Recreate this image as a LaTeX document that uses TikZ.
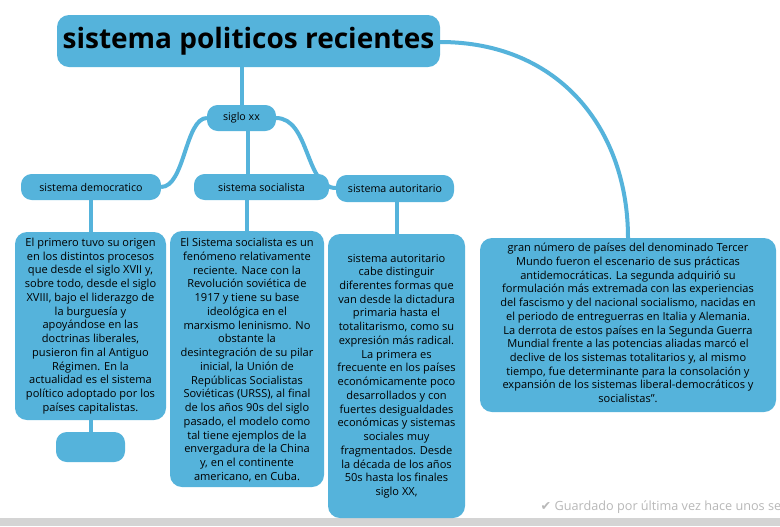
\documentclass[tikz,border=0pt]{standalone}
\usepackage{fontspec}
\setmainfont{Open Sans}
\newfontfamily\symf{DejaVu Sans}
\definecolor{bl}{HTML}{55B3DB}
\definecolor{gr}{HTML}{B8B8B8}
\begin{document}
\begin{tikzpicture}[x=0.75pt,y=-0.75pt,
  bx/.style={fill=bl,rounded corners=9pt,draw=none,align=center,inner sep=0pt,font=\fontsize{8.3}{10.3}\selectfont},
  pill/.style={fill=bl,rounded corners=8pt,draw=none,font=\fontsize{8}{10}\selectfont},
  ln/.style={draw=bl,line width=3pt}]
\useasboundingbox (0,0) rectangle (780,526);
\fill[white] (0,0) rectangle (780,526);
\fill[gr!60] (0,518) rectangle (780,526);
% connectors
\draw[ln] (242,67) -- (242,105);
\draw[ln] (207,118) .. controls (185,118) and (185,187) .. (161,187);
\draw[ln] (248,131) -- (248,174);
\draw[ln] (276,118) .. controls (310,118) and (305,188) .. (336,188);
\draw[ln] (440,42) .. controls (560,42) and (628,130) .. (628,238);
\draw[ln] (91,200) -- (91,232);
\draw[ln] (91,420) -- (91,432);
\draw[ln] (247,200) -- (247,231);
\draw[ln] (397,202) -- (397,234);
% boxes
\path[bx] (57,15) rectangle (440,67);
\node (title) at (248.5,41) {\fontsize{21}{24}\selectfont\bfseries sistema politicos recientes};
\path[pill] (207,105) rectangle (276,131); \node[font=\fontsize{8}{10}\selectfont] (s20) at (241.5,118) {siglo xx};
\path[pill] (21,174) rectangle (161,200); \node[font=\fontsize{8}{10}\selectfont] (dem) at (91,187) {sistema democratico};
\path[pill] (194,174) rectangle (329,200); \node[font=\fontsize{8}{10}\selectfont] (soc) at (261.5,187) {sistema socialista};
\path[pill] (336,175) rectangle (454,202); \node[font=\fontsize{8}{10}\selectfont] (aut) at (395,188.5) {sistema autoritario};
\path[bx] (15,232) rectangle (166,420);
\node[bx,fill=none] (b1) at (90.5,326) {El primero tuvo su origen\\en los distintos procesos\\que desde el siglo XVII y,\\sobre todo, desde el siglo\\XVIII, bajo el liderazgo de\\la burguesía y\\apoyándose en las\\doctrinas liberales,\\pusieron fin al Antiguo\\Régimen. En la\\actualidad es el sistema\\político adoptado por los\\países capitalistas.};
\path[pill] (56,432) rectangle (125,462);
\path[bx] (170,231) rectangle (324,487);
\node[bx,fill=none] (b2) at (247,360) {El Sistema socialista es un\\fenómeno relativamente\\reciente. Nace con la\\Revolución soviética de\\1917 y tiene su base\\ideológica en el\\marxismo leninismo. No\\obstante la\\desintegración de su pilar\\inicial, la Unión de\\Repúblicas Socialistas\\Soviéticas (URSS), al final\\de los años 90s del siglo\\pasado, el modelo como\\tal tiene ejemplos de la\\envergadura de la China\\y, en el continente\\americano, en Cuba.};
\path[bx] (328,234) rectangle (465,518);
\node[bx,fill=none] (b3) at (396.5,376) {sistema autoritario\\cabe distinguir\\diferentes formas que\\van desde la dictadura\\primaria hasta el\\totalitarismo, como su\\expresión más radical.\\La primera es\\frecuente en los países\\económicamente poco\\desarrollados y con\\fuertes desigualdades\\económicas y sistemas\\sociales muy\\fragmentados. Desde\\la década de los años\\50s hasta los finales\\siglo XX,};
\path[bx] (480,238) rectangle (776,412);
\node[bx,fill=none] (b4) at (628,323) {gran número de países del denominado Tercer\\Mundo fueron el escenario de sus prácticas\\antidemocráticas. La segunda adquirió su\\formulación más extremada con las experiencias\\del fascismo y del nacional socialismo, nacidas en\\el periodo de entreguerras en Italia y Alemania.\\La derrota de estos países en la Segunda Guerra\\Mundial frente a las potencias aliadas marcó el\\declive de los sistemas totalitarios y, al mismo\\tiempo, fue determinante para la consolación y\\expansión de los sistemas liberal-democráticos y\\socialistas”.};
\node[anchor=west,text=gr,font=\fontsize{9.5}{11}\selectfont] (g) at (536,507) {{\symf ✔} Guardado por última vez hace unos se};
\end{tikzpicture}
\end{document}
